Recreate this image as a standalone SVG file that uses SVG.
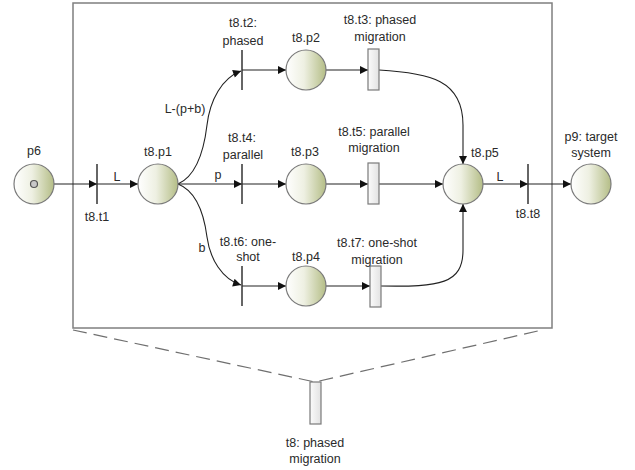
<svg xmlns="http://www.w3.org/2000/svg" width="635" height="470" viewBox="0 0 635 470">
<defs>
<linearGradient id="pg" x1="0" y1="0" x2="1" y2="0">
<stop offset="0" stop-color="#ffffff"/>
<stop offset="0.45" stop-color="#eef0e2"/>
<stop offset="1" stop-color="#b4bd86"/>
</linearGradient>
<linearGradient id="tg" x1="0" y1="0" x2="1" y2="0">
<stop offset="0" stop-color="#fbfbfb"/>
<stop offset="1" stop-color="#e2e2e2"/>
</linearGradient>
<marker id="ah" viewBox="0 0 10 10" refX="10" refY="5" markerWidth="9" markerHeight="8" markerUnits="userSpaceOnUse" orient="auto">
<path d="M0,0 L10,5 L0,10 z" fill="#111"/>
</marker>
<style>
.pl{fill:url(#pg);stroke:#7a7a7a;stroke-width:1.2}
.tr{fill:url(#tg);stroke:#7a7a7a;stroke-width:1.2}
.bar{stroke:#333;stroke-width:1.5}
.ar{fill:none;stroke:#222;stroke-width:1.1;marker-end:url(#ah)}
text{font-family:"Liberation Sans",Arial,sans-serif;font-size:12.5px;fill:#2a2a2a;text-anchor:middle}
.frame{fill:none;stroke:#7f7f7f;stroke-width:1.5}
.dash{fill:none;stroke:#6f6f6f;stroke-width:1.2;stroke-dasharray:14,7}
</style>
</defs>
<rect id="frame" class="frame" x="73" y="3" width="479" height="325"/>
<g id="connectors">
<line class="ar" x1="54" y1="184" x2="97" y2="184"/>
<line class="ar" x1="97" y1="184" x2="138" y2="184"/>
<path class="ar" d="M178,184 C196,176 204,150 207,125 C210,100 222,78 241,71"/>
<line class="ar" x1="178" y1="184" x2="242" y2="184"/>
<path class="ar" d="M178,184 C196,191 204,214 207,237 C210,259 222,279 241,285"/>
<line class="ar" x1="242" y1="70" x2="286" y2="70"/>
<line class="ar" x1="326" y1="70" x2="368" y2="70"/>
<line class="ar" x1="242" y1="184" x2="286" y2="184"/>
<line class="ar" x1="326" y1="184" x2="368" y2="184"/>
<line class="ar" x1="242" y1="286" x2="286" y2="286"/>
<line class="ar" x1="326" y1="286" x2="370" y2="286"/>
<path class="ar" d="M379,70 C430,73 463,80 463,125 L463,164"/>
<line class="ar" x1="379" y1="184" x2="443" y2="184"/>
<path class="ar" d="M381,286 C440,287 463,284 463,250 L463,204"/>
<line class="ar" x1="483" y1="184" x2="528" y2="184"/>
<line class="ar" x1="528" y1="184" x2="571" y2="184"/>
<path class="dash" d="M73,330 L315,382 L542,330"/>
</g>
<g id="p6"><circle class="pl" cx="34" cy="184" r="20"/><circle cx="34" cy="184" r="3.5" fill="#c8c8c8" stroke="#555" stroke-width="1.2"/><text x="34" y="155">p6</text></g>
<g id="t8.t1"><line class="bar" x1="97" y1="164" x2="97" y2="204"/><text x="97" y="221">t8.t1</text></g>
<g id="label-L1"><text x="117" y="181">L</text></g>
<g id="t8.p1"><circle class="pl" cx="158" cy="184" r="20"/><text x="158" y="156">t8.p1</text></g>
<g id="label-Lpb"><text x="185" y="113">L-(p+b)</text></g>
<g id="label-p"><text x="218" y="179">p</text></g>
<g id="label-b"><text x="202" y="252">b</text></g>
<g id="t8.t2"><line class="bar" x1="242" y1="50" x2="242" y2="90"/><text x="243" y="27">t8.t2:</text><text x="243" y="45">phased</text></g>
<g id="t8.p2"><circle class="pl" cx="306" cy="70" r="20"/><text x="306" y="42">t8.p2</text></g>
<g id="t8.t3"><rect class="tr" x="368" y="49" width="11" height="41"/><text x="380" y="24">t8.t3: phased</text><text x="380" y="41">migration</text></g>
<g id="t8.t4"><line class="bar" x1="242" y1="164" x2="242" y2="204"/><text x="242" y="142">t8.t4:</text><text x="243" y="159">parallel</text></g>
<g id="t8.p3"><circle class="pl" cx="306" cy="184" r="20"/><text x="305" y="156">t8.p3</text></g>
<g id="t8.t5"><rect class="tr" x="368" y="163" width="11" height="41"/><text x="374" y="136">t8.t5: parallel</text><text x="374" y="152">migration</text></g>
<g id="t8.t6"><line class="bar" x1="242" y1="266" x2="242" y2="306"/><text x="248" y="246">t8.t6: one-</text><text x="248" y="261">shot</text></g>
<g id="t8.p4"><circle class="pl" cx="306" cy="286" r="20"/><text x="306" y="261">t8.p4</text></g>
<g id="t8.t7"><rect class="tr" x="370" y="266" width="11" height="41"/><text x="377" y="247">t8.t7: one-shot</text><text x="377" y="264">migration</text></g>
<g id="t8.p5"><circle class="pl" cx="463" cy="184" r="20"/><text x="471" y="157" style="text-anchor:start">t8.p5</text></g>
<g id="label-L2"><text x="500" y="181">L</text></g>
<g id="t8.t8"><line class="bar" x1="528" y1="164" x2="528" y2="204"/><text x="528" y="218">t8.t8</text></g>
<g id="p9"><circle class="pl" cx="591" cy="184" r="20"/><text x="591" y="141">p9: target</text><text x="591" y="157">system</text></g>
<g id="t8"><rect class="tr" x="310" y="382" width="11" height="42"/><text x="315" y="447">t8: phased</text><text x="315" y="463">migration</text></g>
</svg>
